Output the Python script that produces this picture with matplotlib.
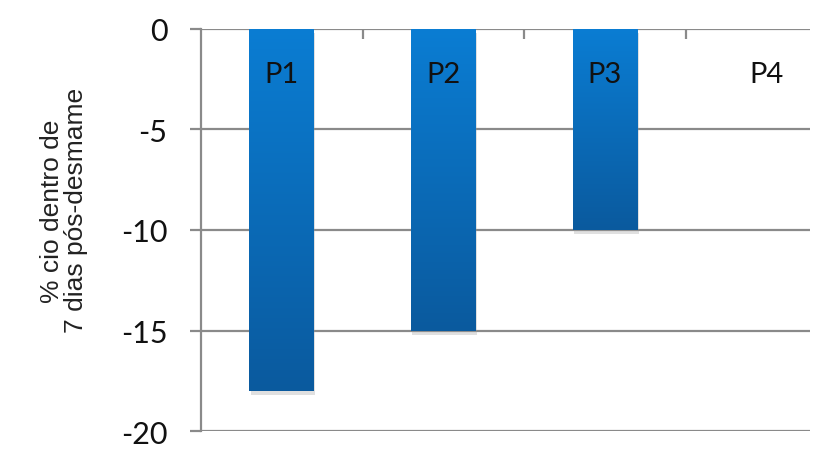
import numpy as np
import matplotlib
matplotlib.use("Agg")
import matplotlib.pyplot as plt
from matplotlib.colors import LinearSegmentedColormap
from matplotlib import patheffects as pe

categories = ["P1", "P2", "P3", "P4"]
values = [-18, -15, -10, 0]
yticks = [0, -5, -10, -15, -20]
ylabel = "% cio dentro de\n7 dias pós-desmame"

fig = plt.figure(figsize=(8.2, 4.52), dpi=100)
ax = fig.add_axes([0.245, 0.044, 0.743, 0.890])

grid_c = "#8a8a8a"
x = np.arange(len(categories))
bw = 0.4
bars = ax.bar(x, values, width=bw, color="#0a6fc0", zorder=3,
              path_effects=[pe.SimplePatchShadow(offset=(1, -3), shadow_rgbFace="#999999", alpha=0.3), pe.Normal()])

cmap = LinearSegmentedColormap.from_list("g", ["#0b7dd3", "#0a5a9e"])
grad = np.linspace(0, 1, 256).reshape(-1, 1)
for b, v in zip(bars, values):
    if v == 0:
        continue
    x0 = b.get_x()
    im = ax.imshow(grad, cmap=cmap, aspect="auto", origin="upper",
                   extent=[x0, x0 + b.get_width(), v, 0], zorder=4)
    im.set_clip_path(b)

for xi, lab in zip(x, categories):
    ax.text(xi, -2.25, lab, ha="center", va="center", fontsize=21,
            family="Lato", color="#111111", zorder=5)

ax.set_xlim(-0.5, 3.27)
ax.set_ylim(-20, 0)
ax.set_yticks(yticks)
ax.set_yticklabels([str(t) for t in yticks], fontsize=22, family="Lato", color="#111111")
ax.yaxis.grid(True, color=grid_c, linewidth=1.6, zorder=1)
ax.set_axisbelow(True)
for s in ["right", "bottom", "top"]:
    ax.spines[s].set_visible(False)
ax.spines["left"].set_color(grid_c)
ax.spines["left"].set_linewidth(1.6)
ax.tick_params(axis="y", length=8, width=1.6, color=grid_c, pad=16)

# category separator ticks along the zero line
ax.set_xticks([0.5, 1.5, 2.5])
ax.set_xticklabels([])
ax.xaxis.set_ticks_position("top")
ax.tick_params(axis="x", direction="in", length=7, width=1.6, color=grid_c)

ax.set_ylabel(ylabel, fontsize=19, family="Liberation Sans", color="#222222",
              linespacing=1.0)
ax.yaxis.set_label_coords(-0.186, 0.55)

fig.savefig("out.png", dpi=100)
